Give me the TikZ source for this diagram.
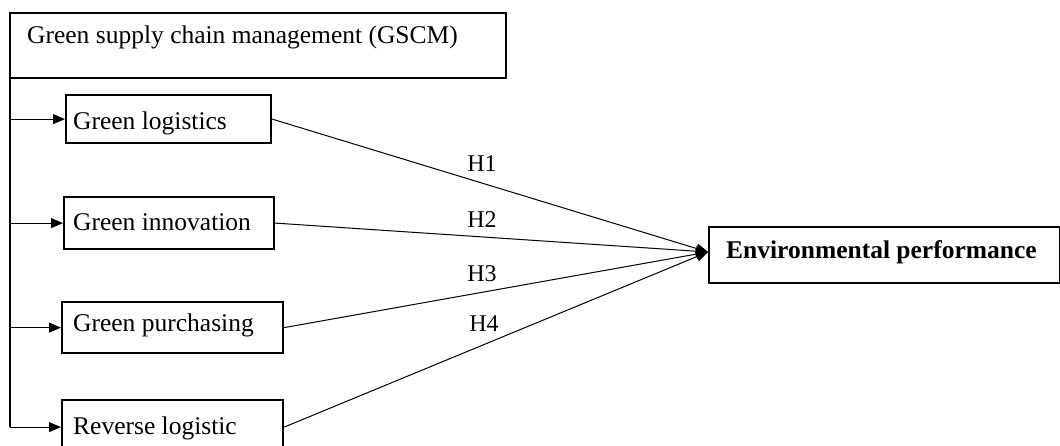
\documentclass[tikz,border=0pt]{standalone}
\usepackage{fontspec}
\setmainfont{Liberation Serif}
\usetikzlibrary{arrows.meta}
\begin{document}
\begin{tikzpicture}[x=1pt,y=-1pt,
  box/.style={draw,line width=2.2pt,rectangle,inner sep=0pt,anchor=north west},
  txt/.style={anchor=base west,inner sep=0pt,font=\fontsize{25.5}{30}\selectfont},
  hyp/.style={anchor=base,inner sep=0pt,font=\fontsize{24}{28}\selectfont},
  link/.style={line width=1pt},
  arr/.style={line width=1pt,-{Triangle[length=12pt,width=10pt]}}]
\useasboundingbox (0,0) rectangle (1060,445);

% boxes
\node[box,minimum width=496pt,minimum height=65pt] (gscm) at (9,12) {};
\node[box,minimum width=205pt,minimum height=48pt] (gl) at (65,94) {};
\node[box,minimum width=210pt,minimum height=52pt] (gi) at (63,196) {};
\node[box,minimum width=221pt,minimum height=51pt] (gp) at (61,301) {};
\node[box,minimum width=221pt,minimum height=54pt] (rl) at (61,399) {};
\node[box,minimum width=351pt,minimum height=56pt] (env) at (708,226) {};

% box texts
\node[txt] (tgscm) at (27,43) {Green supply chain management (GSCM)};
\node[txt] (tgl) at (73,129) {Green logistics};
\node[txt] (tgi) at (73,230) {Green innovation};
\node[txt] (tgp) at (73,331) {Green purchasing};
\node[txt] (trl) at (73,434) {Reverse logistic};
\node[txt,font=\fontsize{25.5}{30}\selectfont\bfseries] (tenv) at (726,258) {Environmental performance};

% branching trunk from the GSCM box
\coordinate (top) at (10,77);
\draw[link,line width=1.3pt] (top) -- (top |- rl.west);
\draw[arr] (top |- gl.west) -- (gl.west);
\draw[arr] (top |- gi.west) -- (gi.west);
\draw[arr] (top |- gp.west) -- (gp.west);
\draw[arr] (top |- rl.west) -- (rl.west);

% hypothesised paths
\coordinate (tip) at (708,252);
\draw[arr] (gl.east) -- (tip);
\draw[arr] (gi.east) -- (tip);
\draw[arr] (gp.east) -- (tip);
\draw[arr] (rl.east) -- (tip);

\node[hyp] (h1) at (482,171) {H1};
\node[hyp] (h2) at (482,227) {H2};
\node[hyp] (h3) at (482,281) {H3};
\node[hyp] (h4) at (484,331) {H4};
\end{tikzpicture}
\end{document}
